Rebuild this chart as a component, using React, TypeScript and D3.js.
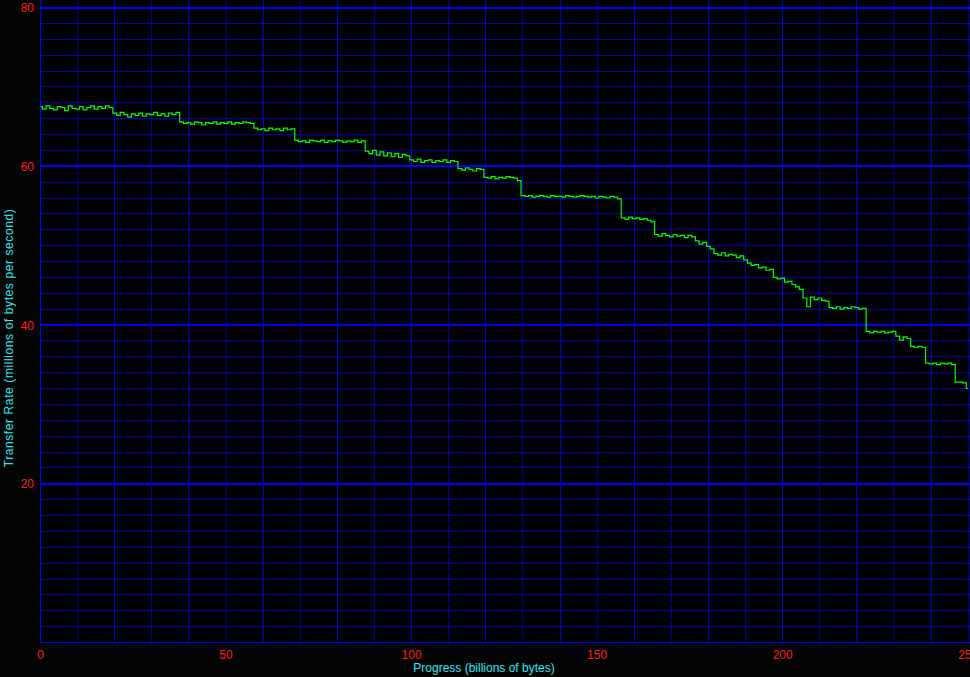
import React, { useEffect } from "react";
import * as d3 from "d3";

// Transfer rate (millions of bytes per second), one reading per billion bytes of progress (0..250)
const rates: number[] = [
  // 0-19
  67.5, 67.2, 67.6, 67.3, 67.1, 67.5, 67.4, 67.0, 67.6, 67.3,
  67.2, 67.5, 67.1, 67.4, 67.6, 67.2, 67.5, 67.3, 67.6, 67.4,
  // 20-37
  66.7, 66.4, 66.8, 66.5, 66.2, 66.6, 66.4, 66.7, 66.3, 66.6,
  66.5, 66.8, 66.4, 66.6, 66.3, 66.7, 66.5, 66.8,
  // 38-57
  65.6, 65.4, 65.5, 65.3, 65.6, 65.5, 65.2, 65.5, 65.4, 65.6,
  65.3, 65.5, 65.4, 65.6, 65.3, 65.5, 65.4, 65.6, 65.5, 65.4,
  // 58-68
  64.8, 64.6, 64.7, 64.5, 64.8, 64.6, 64.7, 64.5, 64.8, 64.6, 64.7,
  // 69-87
  63.3, 63.1, 63.2, 63.0, 63.3, 63.2, 63.1, 63.3, 63.0, 63.2,
  63.1, 63.3, 63.2, 63.0, 63.2, 63.1, 63.3, 63.0, 63.2,
  // 88-99
  61.9, 61.6, 62.0, 61.4, 61.8, 61.3, 61.7, 61.2, 61.6, 61.1, 61.5, 61.3,
  // 100-112
  60.8, 60.6, 60.9, 60.5, 60.7, 60.8, 60.5, 60.7, 60.6, 60.8, 60.5, 60.7, 60.6,
  // 113-119
  59.7, 59.5, 59.8, 59.6, 59.4, 59.7, 59.6,
  // 120-129
  58.6, 58.5, 58.7, 58.4, 58.6, 58.5, 58.7, 58.6, 58.5, 58.2,
  // 130-156
  56.3, 56.2, 56.3, 56.1, 56.2, 56.3, 56.2, 56.1, 56.3, 56.2,
  56.2, 56.1, 56.3, 56.2, 56.1, 56.2, 56.3, 56.2, 56.1, 56.2,
  56.0, 56.2, 56.1, 56.0, 56.2, 56.1, 55.9,
  // 157-165
  53.5, 53.3, 53.6, 53.4, 53.5, 53.3, 53.4, 53.2, 53.0,
  // 166-176
  51.4, 51.2, 51.5, 51.3, 51.1, 51.4, 51.2, 51.3, 51.0, 51.3, 51.1,
  // 177-181
  50.6, 50.2, 50.4, 49.9, 49.6,
  // 182-190
  49.0, 48.8, 49.1, 48.7, 48.9, 48.8, 48.5, 48.7, 48.2,
  // 191-197
  47.8, 47.5, 47.6, 47.2, 47.3, 46.9, 47.0,
  // 198-205
  46.0, 45.8, 45.9, 45.4, 45.5, 45.1, 44.8, 44.5,
  // 206-212
  43.4, 42.3, 43.5, 43.2, 43.4, 43.1, 43.0,
  // 213-222
  42.2, 42.1, 42.3, 42.0, 42.2, 42.1, 42.3, 42.2, 42.0, 42.1,
  // 223-230
  39.2, 39.0, 39.2, 39.1, 39.2, 39.0, 39.1, 39.2,
  // 231-234
  38.6, 38.1, 38.5, 38.3,
  // 235-238
  37.3, 37.2, 37.3, 37.2,
  // 239-246
  35.2, 35.1, 35.2, 35.0, 35.2, 35.1, 35.2, 35.0,
  // 247-249
  32.8, 32.8, 32.7,
  // 250
  32.0,
];

const xTickLabels = ["0", "50", "100", "150", "200", "250"];
const yTickLabels = ["20", "40", "60", "80"];
const xTitle = "Progress (billions of bytes)";
const yTitle = "Transfer Rate (millions of bytes per second)";

const W = 970;
const H = 677;

export default function App() {
  useEffect(() => {
    document.body.style.margin = "0";
    document.body.style.background = "#000";
  }, []);

  const x = d3.scaleLinear().domain([0, 250]).range([40.5, 968.2]);
  const y = d3.scaleLinear().domain([0, 80]).range([642.5, 7.5]);

  const gridX = d3.range(10, 251, 10);
  const gridY = d3.range(2, 81, 2);

  const pts: [number, number][] = rates.map((r, i) => [i, r]);
  const line = d3
    .line<[number, number]>()
    .x((d) => x(d[0]))
    .y((d) => y(d[1]))
    .curve(d3.curveStep);

  const font = "'Liberation Sans', Arial, sans-serif";
  const red = "#ff1e1e";
  const cyan = "#30e8f0";

  return (
    <svg
      width={W}
      height={H}
      style={{ position: "absolute", left: 0, top: 0, display: "block" }}
    >
      <rect x={0} y={0} width={W} height={H} fill="#040404" />
      <rect x={40} y={0} width={W - 40} height={643} fill="#000" />
      <g shapeRendering="crispEdges">
        {gridY.map((v) => (
          <line
            key={"hy" + v}
            x1={40}
            x2={W}
            y1={y(v)}
            y2={y(v)}
            stroke={v % 20 === 0 ? "#0000ff" : "#0000b4"}
            strokeWidth={v % 20 === 0 ? 2 : 1}
          />
        ))}
        {gridX.map((v, i) => (
          <line
            key={"vx" + v}
            x1={x(v)}
            x2={x(v)}
            y1={0}
            y2={642.5}
            stroke={i % 2 === 1 ? "#0000d8" : "#0000a8"}
            strokeWidth={1}
          />
        ))}
        <line x1={40.5} x2={40.5} y1={0} y2={643} stroke="#0000ff" strokeWidth={1.5} />
        <line x1={40} x2={W} y1={642.5} y2={642.5} stroke="#0000ff" strokeWidth={1.5} />
      </g>
      <path d={line(pts) || ""} fill="none" stroke="#00ff00" strokeWidth={1.2} />
      {xTickLabels.map((t) => (
        <text
          key={"xt" + t}
          x={x(+t)}
          y={659}
          fill={red}
          fontFamily={font}
          fontSize={12}
          textAnchor="middle"
        >
          {t}
        </text>
      ))}
      {yTickLabels.map((t) => (
        <text
          key={"yt" + t}
          x={34}
          y={y(+t) + 4.5}
          fill={red}
          fontFamily={font}
          fontSize={12}
          textAnchor="end"
        >
          {t}
        </text>
      ))}
      <text
        x={484}
        y={672}
        fill={cyan}
        fontFamily={font}
        fontSize={12}
        textAnchor="middle"
      >
        {xTitle}
      </text>
      <text
        transform="translate(13,338) rotate(-90)"
        fill={cyan}
        fontFamily={font}
        fontSize={12}
        letterSpacing={0.6}
        textAnchor="middle"
      >
        {yTitle}
      </text>
    </svg>
  );
}
